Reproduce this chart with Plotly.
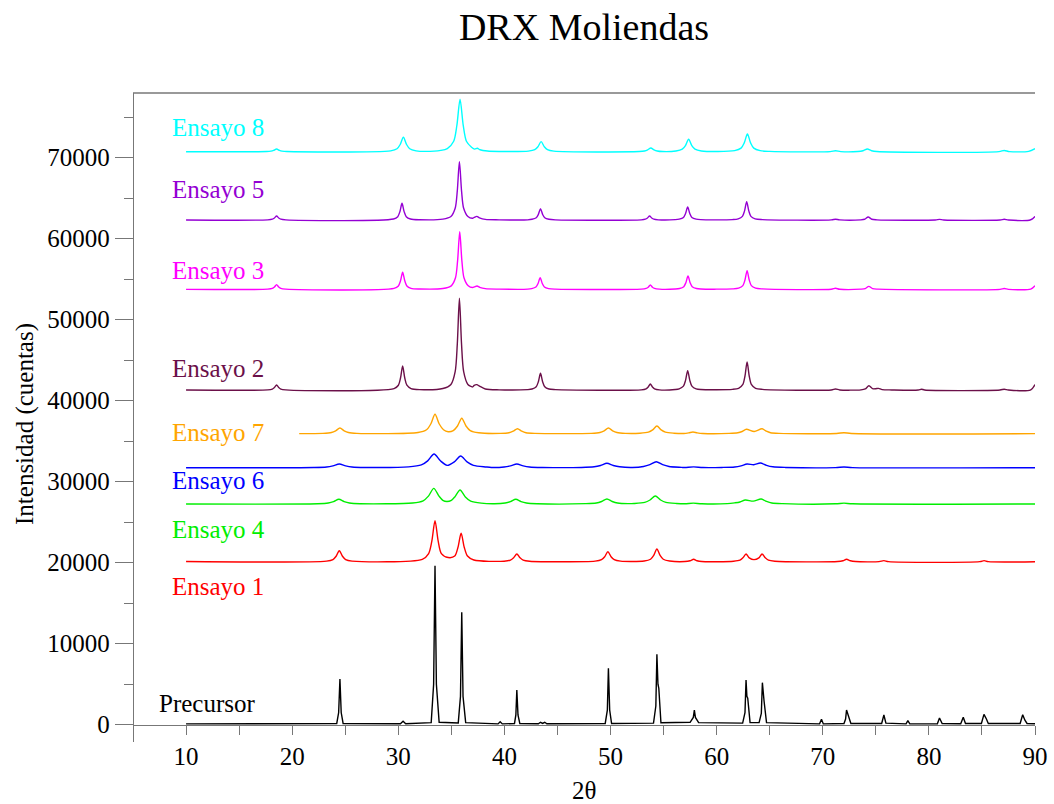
import plotly.graph_objects as go

# ---- data (2theta, counts) ----
PRECURSOR = [(10,100),(24.2,150),(24.38,1500),(24.5,5640),(24.62,1500),(24.8,150),(30.2,120),(30.45,420),(30.7,120),
 (33.1,250),(33.33,5000),(33.46,19630),(33.59,5000),(33.85,300),(35.65,220),(35.86,3500),(35.98,13880),(36.1,3500),(36.35,250),
 (39.4,100),(39.6,370),(39.8,100),(40.95,150),(41.08,1200),(41.17,4280),(41.28,1200),(41.45,150),
 (43.2,120),(43.4,300),(43.6,150),(43.8,300),(44.0,120),(49.5,150),(49.7,1800),(49.8,6960),(49.92,1800),(50.1,150),
 (54.05,200),(54.27,2300),(54.37,8690),(54.47,5000),(54.55,4500),(54.75,250),(57.5,300),(57.8,900),(57.9,1810),(58.0,900),(58.3,250),
 (62.45,200),(62.67,1500),(62.77,5520),(62.85,3500),(62.93,3270),(63.15,250),(64.0,250),(64.21,1400),(64.31,5190),(64.39,3200),(64.47,2900),(64.7,250),
 (69.7,100),(69.88,660),(70.05,100),(72.0,150),(72.15,700),(72.24,1810),(72.33,1300),(72.42,1080),(72.65,150),
 (75.55,150),(75.76,1200),(75.95,200),(77.85,100),(78.02,500),(78.2,100),(80.8,120),(81.0,830),(81.25,150),
 (83.0,120),(83.24,910),(83.45,150),(84.95,150),(85.19,1280),(85.32,800),(85.42,700),(85.6,150),
 (88.6,150),(88.84,1230),(88.97,700),(89.05,560),(89.25,150),(90,120)]

ENSAYO_1 = [(10,20150),(23.24,20200),(23.84,20390),(24.14,20800),(24.44,21480),(24.74,20800),(25.04,20390),(25.64,20200),
 (32.26,20420),(32.86,21130),(33.16,22660),(33.46,25190),(33.76,22660),(34.06,21130),(34.7,20640),
 (35.32,20820),(35.62,21880),(35.92,23630),(36.22,21880),(36.52,20820),(37.12,20330),
 (39.97,20180),(40.57,20310),(40.87,20600),(41.17,21070),(41.47,20600),(41.77,20310),(42.37,20180),
 (48.55,20190),(49.15,20370),(49.45,20740),(49.75,21360),(50.05,20740),(50.35,20370),(50.95,20190),
 (53.17,20210),(53.77,20430),(54.07,20900),(54.37,21690),(54.67,20900),(54.97,20430),(55.57,20210),
 (57.0,20140),(57.5,20240),(57.83,20420),(58.15,20240),(58.6,20140),
 (61.6,20180),(62.2,20310),(62.47,20600),(62.77,21070),(63.07,20600),(63.52,20380),(63.98,20600),(64.28,21070),(64.58,20600),(64.88,20310),(65.48,20180),
 (71.4,20140),(71.9,20240),(72.24,20420),(72.6,20240),(73.1,20140),(75.3,20130),(75.76,20250),(76.2,20130),
 (84.8,20130),(85.2,20250),(85.6,20130),(90,20120)]

ENSAYO_4 = [(10,27250),(22.4,27280),(23.4,27370),(23.9,27540),(24.4,27830),(24.9,27540),(25.4,27370),(26.4,27280),
 (31.34,27370),(32.34,27640),(32.84,28215),(33.34,29180),(33.84,28215),(34.2,27700),(34.58,27560),
 (35.0,27700),(35.32,28115),(35.82,28980),(36.32,28115),(36.82,27600),(37.82,27350),
 (39.07,27280),(40.07,27370),(40.57,27540),(41.07,27830),(41.57,27540),(42.07,27370),(43.07,27280),
 (47.66,27290),(48.66,27370),(49.16,27555),(49.66,27860),(50.16,27555),(50.66,27370),(51.66,27290),
 (52.22,27310),(53.22,27450),(53.72,27740),(54.22,28230),(54.72,27740),(55.22,27450),(56.22,27310),
 (57.0,27270),(57.8,27350),(58.6,27270),
 (61.0,27290),(61.7,27390),(62.2,27500),(62.71,27740),(63.45,27600),(64.19,27860),(64.7,27560),(65.2,27370),(66.2,27290),
 (71.2,27270),(72.0,27350),(72.8,27270),(90,27250)]

ENSAYO_6 = [(10,31730),(22.04,31760),(23.24,31820),(23.84,31960),(24.44,32190),(25.04,31960),(25.64,31820),(26.84,31760),
 (30.97,31830),(32.17,32070),(32.77,32575),(33.37,33420),(33.97,32575),(34.6,32020),
 (35.28,32450),(35.88,33170),(36.48,32450),(37.08,32020),(38.28,31820),
 (38.77,31760),(39.97,31820),(40.57,31960),(41.17,32190),(41.77,31960),(42.37,31820),(43.57,31760),
 (47.26,31760),(48.46,31840),(49.06,32000),(49.66,32270),(50.26,32000),(50.86,31840),(52.06,31760),
 (53.11,31880),(53.71,32100),(54.31,32470),(54.91,32100),(55.51,31880),(56.71,31770),
 (57.0,31750),(57.83,31830),(58.7,31750),
 (60.5,31760),(61.7,31820),(62.3,31960),(62.87,32190),(63.5,32100),(64.12,32310),(64.7,32020),(65.3,31840),(66.5,31760),
 (71.2,31740),(72.0,31810),(72.8,31740),(90,31730)]

ENSAYO_7 = [(20.66,35930),(22.9,35970),(23.7,36070),(24.1,36280),(24.5,36630),(24.9,36280),(25.3,36070),(26.1,35970),
 (31.86,36070),(32.66,36410),(33.06,37125),(33.46,38320),(33.86,37125),(34.26,36410),(34.7,36170),
 (35.18,36310),(35.58,36880),(35.98,37830),(36.38,36880),(36.78,36310),(37.58,36040),
 (39.63,35970),(40.43,36050),(40.83,36235),(41.23,36540),(41.63,36235),(42.03,36050),(42.83,35970),
 (48.2,35970),(49.0,36070),(49.4,36280),(49.8,36630),(50.2,36280),(50.6,36070),(51.4,35970),
 (52.77,35990),(53.57,36120),(53.97,36400),(54.37,36880),(54.77,36400),(55.17,36120),(55.97,35990),
 (56.9,35950),(57.37,36030),(57.77,36140),(58.17,36030),(58.7,35950),
 (61.2,35960),(62.0,36040),(62.4,36200),(62.8,36470),(63.54,36200),(64.28,36540),(64.68,36230),(65.08,36050),(65.88,35970),
 (71.3,35950),(72.0,36050),(72.7,35950),(90,35930)]

ENSAYO_2 = [(10,41320),(17.7,41340),(18.13,41440),(18.33,41630),(18.53,41940),(18.73,41630),(18.93,41440),(19.4,41340),
 (29.6,41500),(30.01,41910),(30.21,42800),(30.41,44280),(30.61,42800),(30.81,41910),(31.2,41500),(32.0,41370),
 (34.2,41500),(34.96,42000),(35.36,43580),(35.56,46980),(35.76,52640),(35.96,46980),(36.16,43580),(36.56,42000),(37.0,41700),
 (37.15,41900),(37.4,41980),(37.65,41800),(38.2,41450),(39.5,41340),
 (42.2,41370),(42.6,41440),(43.0,41730),(43.2,42350),(43.4,43380),(43.6,42350),(43.8,41730),(44.2,41440),(44.8,41370),
 (52.9,41340),(53.35,41470),(53.55,41690),(53.75,42060),(53.95,41690),(54.15,41470),(54.6,41340),
 (56.1,41380),(56.47,41460),(56.87,41800),(57.07,42510),(57.27,43700),(57.47,42510),(57.67,41800),(58.07,41460),(58.5,41380),
 (61.5,41400),(62.07,41530),(62.47,42010),(62.67,43050),(62.87,44780),(63.07,43050),(63.27,42010),(63.67,41530),(64.3,41400),
 (70.8,41330),(71.2,41450),(71.6,41330),(73.6,41340),(74.0,41450),(74.35,41850),(74.7,41480),(75.0,41480),(75.25,41520),(75.6,41370),(76.5,41330),
 (79.0,41320),(79.3,41420),(79.6,41320),(86.7,41320),(87.1,41420),(87.5,41320),(89.6,41350),(90,42000)]

ENSAYO_3 = [(10,53750),(17.7,53770),(18.13,53860),(18.33,54035),(18.53,54320),(18.73,54035),(18.93,53860),(19.4,53770),
 (29.6,53870),(30.01,54170),(30.21,54800),(30.41,55850),(30.61,54800),(30.81,54170),(31.2,53870),(32.0,53790),
 (34.2,53850),(34.99,54180),(35.39,55170),(35.59,57300),(35.79,60860),(35.99,57300),(36.19,55170),(36.59,54180),(37.0,53970),
 (37.17,54050),(37.42,54160),(37.67,54000),(38.2,53830),(39.5,53770),
 (42.2,53770),(42.57,53840),(42.97,54040),(43.17,54470),(43.37,55190),(43.57,54470),(43.77,54040),(44.17,53840),(44.8,53770),
 (52.9,53770),(53.35,53860),(53.55,54010),(53.75,54280),(53.95,54010),(54.15,53860),(54.6,53770),
 (56.1,53790),(56.5,53850),(56.9,54080),(57.1,54570),(57.3,55400),(57.5,54570),(57.7,54080),(58.1,53850),(58.5,53790),
 (61.5,53800),(62.07,53890),(62.47,54210),(62.67,54900),(62.87,56050),(63.07,54900),(63.27,54210),(63.67,53890),(64.3,53800),
 (70.8,53760),(71.2,53880),(71.6,53760),(73.6,53770),(74.0,53840),(74.34,54120),(74.7,53840),(75.2,53770),
 (86.7,53750),(87.1,53850),(87.5,53750),(89.6,53780),(90,54200)]

ENSAYO_5 = [(10,62310),(17.7,62330),(18.13,62410),(18.33,62560),(18.53,62800),(18.73,62560),(18.93,62410),(19.4,62330),
 (29.55,62430),(29.95,62720),(30.15,63340),(30.35,64370),(30.55,63340),(30.75,62720),(31.15,62430),(32.0,62340),
 (34.2,62410),(34.96,62740),(35.36,63750),(35.56,65910),(35.76,69510),(35.96,65910),(36.16,63750),(36.56,62740),(37.0,62530),
 (37.15,62620),(37.4,62760),(37.65,62580),(38.2,62380),(39.5,62330),
 (42.2,62330),(42.6,62400),(43.0,62590),(43.2,63000),(43.4,63700),(43.6,63000),(43.8,62590),(44.2,62400),(44.8,62330),
 (52.9,62330),(53.28,62410),(53.48,62560),(53.68,62800),(53.88,62560),(54.08,62410),(54.5,62330),
 (56.1,62350),(56.47,62410),(56.87,62630),(57.07,63110),(57.27,63910),(57.47,63110),(57.67,62630),(58.07,62410),(58.5,62350),
 (61.5,62360),(62.03,62450),(62.43,62760),(62.63,63440),(62.83,64570),(63.03,63440),(63.23,62760),(63.63,62450),(64.3,62360),
 (70.8,62320),(71.2,62410),(71.6,62320),(73.6,62330),(73.94,62400),(74.28,62680),(74.62,62400),(75.1,62330),
 (80.6,62310),(81.0,62380),(81.4,62310),(86.7,62310),(87.1,62400),(87.5,62310),(89.6,62340),(90,62760)]

ENSAYO_8 = [(10,70740),(17.6,70760),(18.0,70810),(18.25,70900),(18.53,71070),(18.8,70900),(19.05,70810),(19.5,70760),
 (29.28,70850),(29.88,71100),(30.18,71630),(30.48,72520),(30.78,71630),(31.08,71100),(31.68,70850),(32.6,70780),
 (34.0,70900),(34.62,71130),(35.22,72030),(35.52,73980),(35.82,77210),(36.12,73980),(36.42,72030),(36.9,71300),
 (37.2,71060),(37.45,71160),(37.7,70980),(38.4,70820),(39.5,70770),
 (42.26,70810),(42.86,70990),(43.16,71360),(43.46,71980),(43.76,71360),(44.06,70990),(44.66,70810),
 (52.7,70760),(53.2,70830),(53.5,70970),(53.8,71200),(54.1,70970),(54.4,70830),(54.9,70760),
 (56.16,70830),(56.76,71050),(57.06,71500),(57.36,72270),(57.66,71500),(57.96,71050),(58.56,70830),
 (61.7,70870),(62.3,71180),(62.6,71830),(62.9,72930),(63.2,71830),(63.5,71180),(64.1,70870),(65.0,70780),
 (70.7,70750),(71.2,70860),(71.7,70750),(73.3,70760),(73.8,70860),(74.2,71070),(74.6,70860),(75.1,70760),
 (86.6,70750),(87.1,70890),(87.6,70750),(89.4,70780),(90,71110)]

SERIES = ["Precursor", "Ensayo 1", "Ensayo 4", "Ensayo 6", "Ensayo 7", "Ensayo 2", "Ensayo 3", "Ensayo 5", "Ensayo 8"]
SERIES_DATA = [PRECURSOR, ENSAYO_1, ENSAYO_4, ENSAYO_6, ENSAYO_7, ENSAYO_2, ENSAYO_3, ENSAYO_5, ENSAYO_8]
COLORS = ["#000000", "#FF0000", "#00EE00", "#0000FF", "#FFA500", "#6B1049", "#FF00FF", "#9400D3", "#00FFFF"]
LABEL_X = [7.24, 8.46, 8.46, 8.46, 8.46, 8.46, 8.46, 8.46, 8.46]
LABEL_Y = [2590, 17070, 24070, 30160, 36090, 44020, 56090, 66050, 73790]

X_TICKS = [10, 20, 30, 40, 50, 60, 70, 80, 90]
Y_TICKS = [0, 10000, 20000, 30000, 40000, 50000, 60000, 70000]

FONT = "Liberation Serif"
AXIS_COLOR = "#777777"
Y_MIN, Y_MAX = -2136, 77988

fig = go.Figure()
for name, pts, col in zip(SERIES, SERIES_DATA, COLORS):
    xs = [p[0] for p in pts]
    ys = [p[1] for p in pts]
    shape = "linear" if name == "Precursor" else "spline"
    fig.add_trace(go.Scatter(x=xs, y=ys, mode="lines", name=name,
                             line=dict(color=col, width=1.4, shape=shape, smoothing=0.8),
                             showlegend=False, hoverinfo="skip"))

for name, col, lx, ly in zip(SERIES, COLORS, LABEL_X, LABEL_Y):
    fig.add_annotation(x=lx, y=ly, xref="x", yref="y", text=name, showarrow=False,
                       xanchor="left", yanchor="middle",
                       font=dict(family=FONT, size=25, color=col))

x_pos = (0 - Y_MIN) / (Y_MAX - Y_MIN)

fig.update_layout(
    width=1054, height=804,
    margin=dict(l=133, r=19, t=93, b=62, autoexpand=False),
    paper_bgcolor="white", plot_bgcolor="white",
    font=dict(family=FONT, size=25, color="black"),
    title=dict(text="DRX Moliendas", x=0.5, xref="paper", y=1 - 27 / 804, yref="container",
               xanchor="center", yanchor="middle", font=dict(family=FONT, size=38, color="black")),
    xaxis=dict(range=[5, 90], tickvals=X_TICKS, ticks="outside", ticklen=9, tickwidth=1,
               tickcolor=AXIS_COLOR, showline=True, linecolor=AXIS_COLOR, linewidth=1.3,
               showgrid=False, zeroline=False, anchor="free", position=x_pos, automargin=False,
               minor=dict(dtick=5, ticklen=9, ticks="outside", tickcolor=AXIS_COLOR, tickwidth=1, showgrid=False),
               tickfont=dict(family=FONT, size=25, color="black")),
    yaxis=dict(range=[Y_MIN, Y_MAX], tickvals=Y_TICKS, ticktext=[str(v) for v in Y_TICKS],
               ticks="outside", ticklen=18, tickwidth=1,
               tickcolor=AXIS_COLOR, showline=True, linecolor=AXIS_COLOR, linewidth=1.3, mirror=True,
               showgrid=False, zeroline=False, anchor="free", position=0, automargin=False,
               minor=dict(dtick=5000, ticklen=9, ticks="outside", tickcolor=AXIS_COLOR, tickwidth=1, showgrid=False),
               tickfont=dict(family=FONT, size=25, color="black")),
)

fig.add_shape(type="line", xref="paper", yref="paper", x0=0, x1=1, y0=1, y1=1,
              line=dict(color=AXIS_COLOR, width=1.3))

fig.add_annotation(text="Intensidad (cuentas)", xref="paper", yref="paper",
                   x=(25 - 133) / 902, y=0.49, textangle=-90, showarrow=False,
                   xanchor="center", yanchor="middle", font=dict(family=FONT, size=25, color="black"))
fig.add_annotation(text="2θ", xref="paper", yref="paper",
                   x=0.5, y=-(790 - 742) / 649, showarrow=False,
                   xanchor="center", yanchor="middle", font=dict(family=FONT, size=25, color="black"))

fig.write_html("out.html")
